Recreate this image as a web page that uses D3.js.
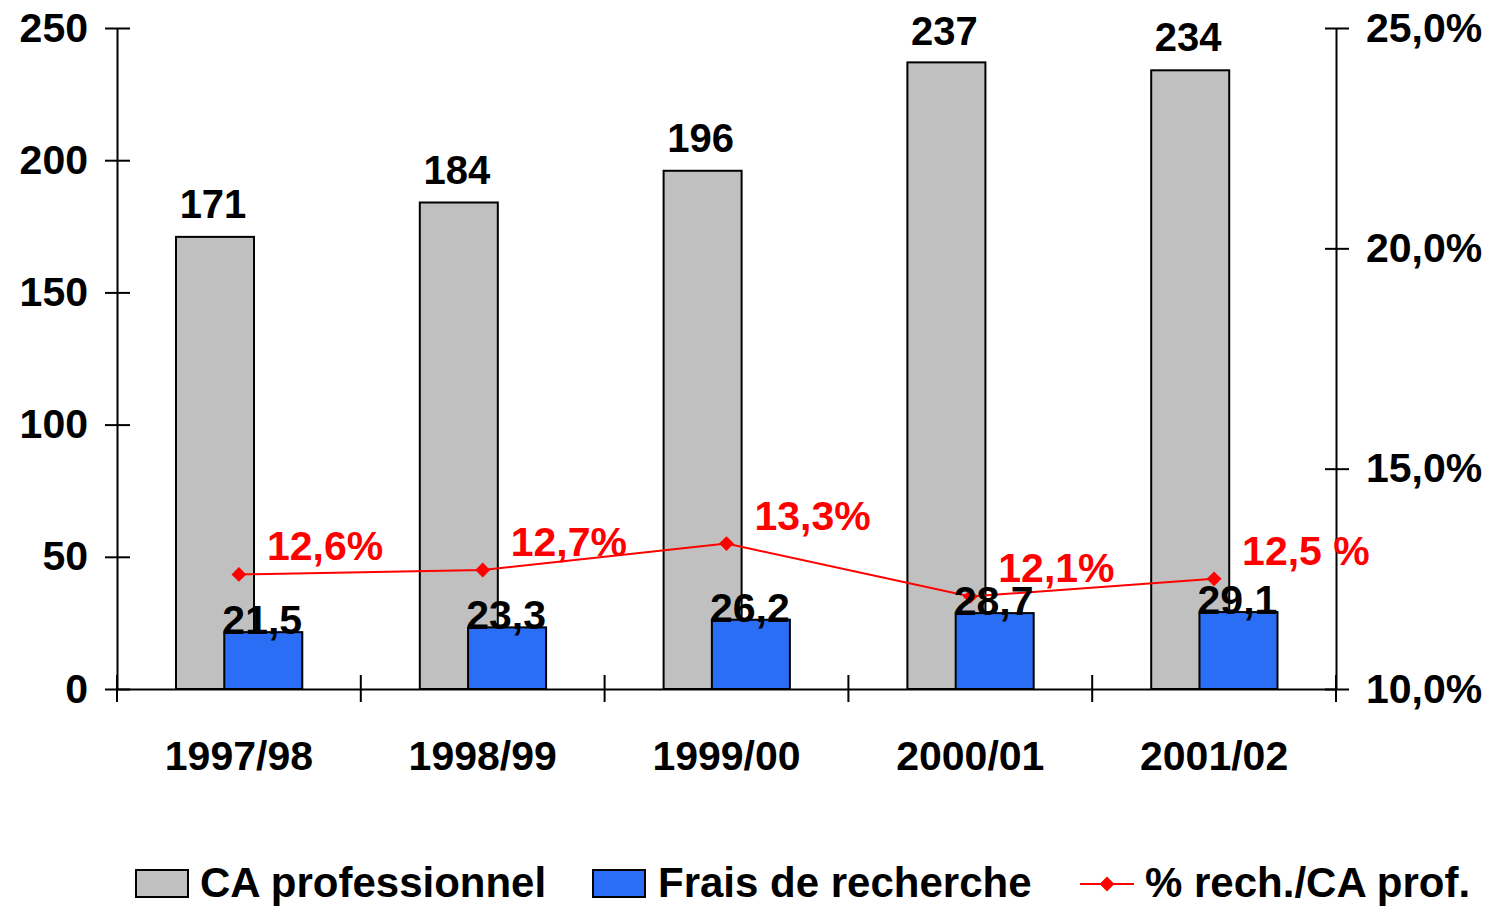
<!DOCTYPE html>
<html>
<head>
<meta charset="UTF-8">
<title>ca_frais_recherche</title>
<style type="text/css">
	body { margin: 0; background: #fff; }
	text { font-family: "Liberation Sans", Arial, sans-serif; font-weight: bold; }
	.axis path, .axis line { stroke: #000; stroke-width: 2px; }
	.axis text { font-size: 41px; fill: #000; }
</style>
<script type="text/javascript" src="https://cdnjs.cloudflare.com/ajax/libs/d3/7.8.5/d3.min.js"></script>
</head>
<body>
<div id="div_main"></div>
<script type="text/javascript">

	// data
	var categories = ["1997/98", "1998/99", "1999/00", "2000/01", "2001/02"];
	var caPro = [171, 184, 196, 237, 234];
	var frais = [21.5, 23.3, 26.2, 28.7, 29.1];
	var ratio = [0.126, 0.127, 0.133, 0.121, 0.125];
	var ratioLabels = ["12,6%", "12,7%", "13,3%", "12,1%", "12,5 %"];
	var leftTicks = [0, 50, 100, 150, 200, 250];
	var rightTicks = [0.10, 0.15, 0.20, 0.25];
	var legendNames = ["CA professionnel", "Frais de recherche", "% rech./CA prof."];

	var svg_w = 1496, svg_h = 907;
	var plot_l = 117, plot_r = 1336, plot_t = 28, plot_b = 689;
	var grey = "#c0c0c0", blue = "#2a6ef5", red = "#ff0000";

	function comma(v) { return String(v).replace(".", ","); }

	var svg = d3.select("#div_main")
		.append("svg")
			.attr("width", svg_w)
			.attr("height", svg_h);

	// scales
	var scaleX = d3.scaleBand()
		.domain(categories)
		.range([plot_l, plot_r])
		.padding(0);
	var bw = scaleX.bandwidth();

	var scaleY = d3.scaleLinear()
		.domain([0, 250])
		.range([plot_b, plot_t]);

	var scaleR = d3.scaleLinear()
		.domain([0.10, 0.25])
		.range([plot_b, plot_t]);

	var barW = bw * 0.32;
	var greyOff = bw * 0.242;
	var blueOff = bw * 0.44;

	// grey bars
	svg.selectAll("rect.ca")
		.data(caPro)
		.enter()
		.append("rect")
			.attr("class", "ca")
			.attr("x", function (d, i) { return scaleX(categories[i]) + greyOff; })
			.attr("y", function (d) { return scaleY(d); })
			.attr("width", barW)
			.attr("height", function (d) { return plot_b - scaleY(d); })
			.attr("fill", grey)
			.attr("stroke", "#000")
			.attr("stroke-width", 2);

	// blue bars
	svg.selectAll("rect.frais")
		.data(frais)
		.enter()
		.append("rect")
			.attr("class", "frais")
			.attr("x", function (d, i) { return scaleX(categories[i]) + blueOff; })
			.attr("y", function (d) { return scaleY(d); })
			.attr("width", barW)
			.attr("height", function (d) { return plot_b - scaleY(d); })
			.attr("fill", blue)
			.attr("stroke", "#000")
			.attr("stroke-width", 2);

	// left axis
	var axisY = d3.axisLeft(scaleY)
		.tickValues(leftTicks)
		.tickSizeInner(12)
		.tickSizeOuter(0)
		.tickPadding(17);
	var gY = svg.append("g")
		.attr("class", "axis")
		.attr("transform", "translate(" + plot_l + ",0)")
		.call(axisY);
	gY.selectAll(".tick line").attr("x1", 13);

	// right axis
	var axisR = d3.axisRight(scaleR)
		.tickValues(rightTicks)
		.tickSizeInner(13)
		.tickSizeOuter(0)
		.tickPadding(17)
		.tickFormat(function (d) { return (d * 100).toFixed(1).replace(".", ",") + "%"; });
	var gR = svg.append("g")
		.attr("class", "axis")
		.attr("transform", "translate(" + plot_r + ",0)")
		.call(axisR);
	gR.selectAll(".tick line").attr("x1", -11);

	// x axis
	var axisX = d3.axisBottom(scaleX)
		.tickSize(0)
		.tickSizeOuter(0);
	var gX = svg.append("g")
		.attr("class", "axis")
		.attr("transform", "translate(0," + plot_b + ")")
		.call(axisX);
	gX.selectAll(".tick text")
		.attr("y", 81)
		.attr("dy", 0)
		.style("font-size", "41px");

	var edges = categories.map(function (c) { return scaleX(c); }).concat([plot_r]);
	gX.selectAll("line.edge")
		.data(edges)
		.enter()
		.append("line")
			.attr("class", "edge")
			.attr("x1", function (d) { return d; })
			.attr("x2", function (d) { return d; })
			.attr("y1", -14)
			.attr("y2", 13);

	// value labels (kept inside the top of the plot)
	svg.selectAll("text.ca")
		.data(caPro)
		.enter()
		.append("text")
			.attr("class", "ca")
			.attr("x", function (d, i) { return scaleX(categories[i]) + greyOff + barW / 2 - 2; })
			.attr("y", function (d) { return Math.max(scaleY(d) - 19, 45); })
			.attr("text-anchor", "middle")
			.style("font-size", "40px")
			.text(function (d) { return d; });

	// ratio line
	var line = d3.line()
		.x(function (d, i) { return scaleX(categories[i]) + bw / 2; })
		.y(function (d) { return scaleR(d); });

	svg.append("path")
		.datum(ratio)
		.attr("d", line)
		.attr("fill", "none")
		.attr("stroke", red)
		.attr("stroke-width", 2);

	svg.selectAll("path.dot")
		.data(ratio)
		.enter()
		.append("path")
			.attr("class", "dot")
			.attr("d", d3.symbol().type(d3.symbolDiamond2).size(140))
			.attr("transform", function (d, i) { return "translate(" + (scaleX(categories[i]) + bw / 2) + "," + scaleR(d) + ")"; })
			.attr("fill", red);

	svg.selectAll("text.frais")
		.data(frais)
		.enter()
		.append("text")
			.attr("class", "frais")
			.attr("x", function (d, i) { return scaleX(categories[i]) + blueOff + barW / 2 - 1; })
			.attr("y", function (d) { return scaleY(d) + 2; })
			.attr("text-anchor", "middle")
			.style("font-size", "41px")
			.text(function (d) { return comma(d.toFixed(1)); });

	svg.selectAll("text.ratio")
		.data(ratio)
		.enter()
		.append("text")
			.attr("class", "ratio")
			.attr("x", function (d, i) { return scaleX(categories[i]) + bw / 2 + 28; })
			.attr("y", function (d) { return scaleR(d) - 14; })
			.attr("fill", red)
			.style("font-size", "41px")
			.text(function (d, i) { return ratioLabels[i]; });

	// legend
	var legend = svg.append("g").attr("transform", "translate(0,897)");
	var legX = [136, 593, 1080];
	var txtX = [200, 658, 1145];

	legend.append("rect")
		.attr("x", legX[0]).attr("y", -27).attr("width", 52).attr("height", 27)
		.attr("fill", grey).attr("stroke", "#000").attr("stroke-width", 2);
	legend.append("rect")
		.attr("x", legX[1]).attr("y", -27).attr("width", 52).attr("height", 27)
		.attr("fill", blue).attr("stroke", "#000").attr("stroke-width", 2);
	legend.append("line")
		.attr("x1", legX[2]).attr("x2", legX[2] + 54).attr("y1", -13).attr("y2", -13)
		.attr("stroke", red).attr("stroke-width", 2);
	legend.append("path")
		.attr("d", d3.symbol().type(d3.symbolDiamond2).size(140))
		.attr("transform", "translate(" + (legX[2] + 27) + ",-13)")
		.attr("fill", red);

	legend.selectAll("text")
		.data(legendNames)
		.enter()
		.append("text")
			.attr("x", function (d, i) { return txtX[i]; })
			.attr("y", 0)
			.style("font-size", "42px")
			.text(function (d) { return d; });

</script>
</body>
</html>
